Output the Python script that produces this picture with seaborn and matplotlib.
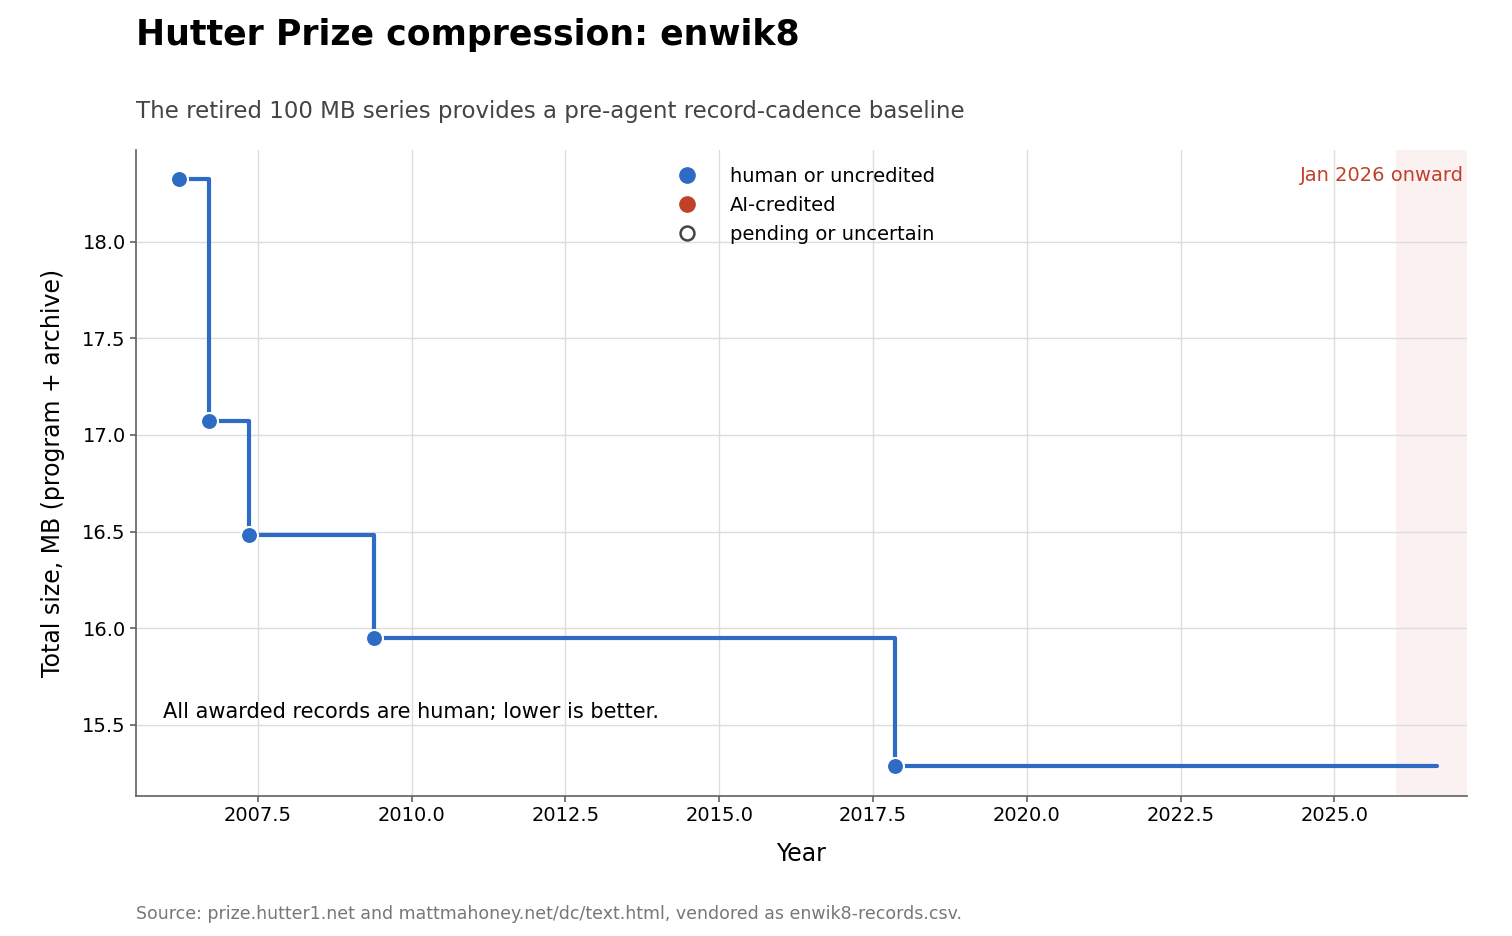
import matplotlib
matplotlib.use("Agg")
import matplotlib.pyplot as plt
import seaborn as sns
import pandas as pd
from matplotlib.lines import Line2D

years = [2006.21, 2006.71, 2007.36, 2009.39, 2017.85]
sizes = [18.325, 17.073, 16.482, 15.950, 15.285]
end_year = 2026.67
shade_start, shade_end = 2026.0, 2027.15

sns.set_theme(style="white")
plt.rcParams['font.family'] = ['DejaVu Sans']
plt.rcParams['text.color'] = 'black'
plt.rcParams['axes.labelcolor'] = 'black'
plt.rcParams['xtick.color'] = 'black'
plt.rcParams['ytick.color'] = 'black'
fig = plt.figure(figsize=(15.12, 9.36), dpi=100)
ax = fig.add_axes([0.09, 0.15, 0.88, 0.69])

blue = "#2e6bc4"
red = "#c0402a"
ax.axvspan(shade_start, shade_end, color="#f9ecea", alpha=0.7, lw=0, zorder=0)
ax.step(years + [end_year], sizes + [sizes[-1]], where="post", color=blue, lw=3, zorder=2)
df = pd.DataFrame({"year": years, "size": sizes})
sns.scatterplot(data=df, x="year", y="size", ax=ax, s=150, color=blue,
                edgecolor="white", linewidth=1.5, zorder=3, legend=False)

ax.set_xlim(2005.52, 2027.15)
ax.set_ylim(15.133, 18.476)
ax.set_xticks([2007.5, 2010, 2012.5, 2015, 2017.5, 2020, 2022.5, 2025])
ax.set_yticks([15.5, 16.0, 16.5, 17.0, 17.5, 18.0])
ax.grid(True, color="#dddddd", lw=1)
for s in ["top", "right"]:
    ax.spines[s].set_visible(False)
for s in ["left", "bottom"]:
    ax.spines[s].set_color("#666666")
ax.tick_params(axis="both", labelsize=14, length=4, color="#666666", left=True, bottom=True)
ax.set_xlabel("Year", fontsize=17, labelpad=12)
ax.set_ylabel("Total size, MB (program + archive)", fontsize=17, labelpad=12)

handles = [
    Line2D([], [], marker="o", ls="", color=blue, markersize=11),
    Line2D([], [], marker="o", ls="", color=red, markersize=11),
    Line2D([], [], marker="o", ls="", markerfacecolor="white", markeredgecolor="#444444",
           markeredgewidth=1.8, markersize=10),
]
ax.legend(handles, ["human or uncredited", "AI-credited", "pending or uncertain"],
          loc="upper center", bbox_to_anchor=(0.5, 1.0), frameon=False, fontsize=14,
          handletextpad=1.2)

ax.text(0.998, 0.975, "Jan 2026 onward", transform=ax.transAxes, ha="right", va="top",
        color=red, fontsize=14)
ax.text(0.02, 0.13, "All awarded records are human; lower is better.", transform=ax.transAxes,
        fontsize=15, va="center")

fig.text(0.09, 0.963, "Hutter Prize compression: enwik8", fontsize=25, fontweight="bold", va="center")
fig.text(0.09, 0.881, "The retired 100 MB series provides a pre-agent record-cadence baseline",
         fontsize=16.5, color="#444444", va="center")
fig.text(0.09, 0.024, "Source: prize.hutter1.net and mattmahoney.net/dc/text.html, vendored as enwik8-records.csv.",
         fontsize=12.5, color="#777777", va="center")

fig.savefig("out.png", dpi=100)
